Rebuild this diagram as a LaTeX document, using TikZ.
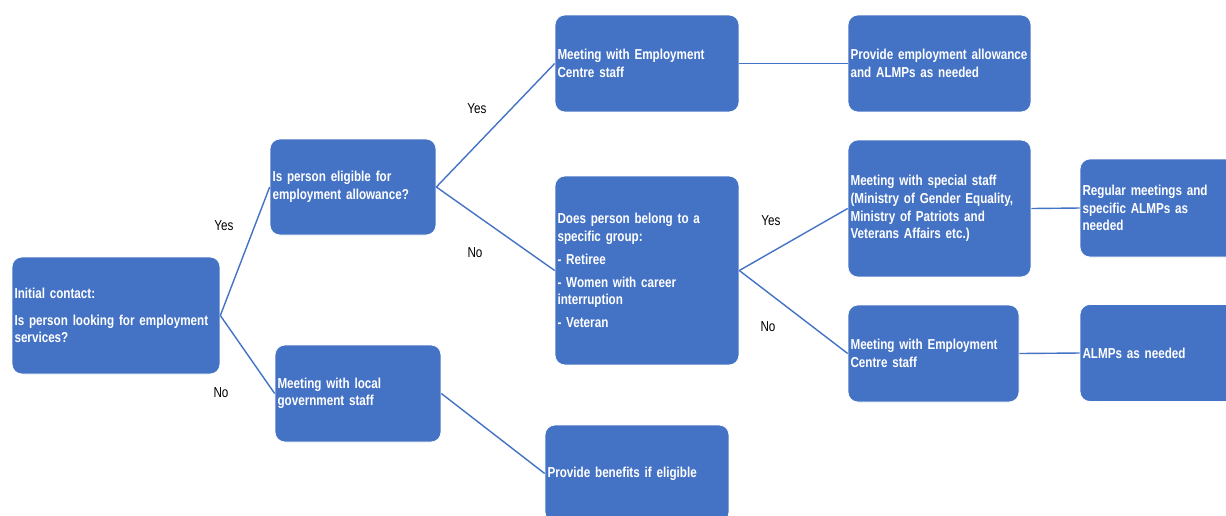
\documentclass[tikz,border=0pt]{standalone}
\usepackage{fontspec}
\setmainfont{Liberation Sans}[FakeStretch=0.81]
\usetikzlibrary{positioning}
\definecolor{boxblue}{HTML}{4472C4}
\tikzstyle{stage} = [rectangle, rounded corners=0.2cm, draw=white, fill=boxblue, text=white, align=left, inner xsep=0.05cm, inner ysep=0pt, minimum height=1.94cm, font=\bfseries\fontsize{8.2}{10}\selectfont]
\tikzstyle{link} = [draw=boxblue, line width=0.8pt]
\tikzstyle{ans} = [font=\fontsize{8.2}{10}\selectfont, inner sep=0pt]

\begin{document}
\begin{tikzpicture}[x=0.02cm, y=-0.02cm]
  \useasboundingbox (0,0) rectangle (1226,515);
  \clip (0,0) rectangle (1226,515);

  % first questions
  \node[stage, text width=4.06cm, minimum height=2.34cm] (init) at (116,315.5) {Initial contact:\\[5pt]Is person looking for employment\\services?};
  \node[stage, text width=3.22cm, minimum height=1.92cm] (elig) at (353,187) {Is person eligible for\\employment allowance?};
  \node[stage, text width=3.22cm] (local) at (358,393.5) {Meeting with local\\government staff};

  % middle column
  \node[stage, text width=3.58cm] (meet1) at (647,63.5) {Meeting with Employment\\Centre staff};
  \node[stage, text width=3.58cm, minimum height=3.78cm] (group) at (647,270.5) {Does person belong to a\\specific group:\\[3pt]- Retiree\\[3pt]- Women with career\\interruption\\[3pt]- Veteran};
  \node[stage, text width=3.58cm] (benefit) at (637,473.5) {Provide benefits if eligible};

  % right columns
  \node[stage, text width=3.56cm] (provide) at (939.5,63.5) {Provide employment allowance\\and ALMPs as needed};
  \node[stage, text width=3.56cm, minimum height=2.74cm] (special) at (939.5,208.5) {Meeting with special staff\\(Ministry of Gender Equality,\\Ministry of Patriots and\\Veterans Affairs etc.)};
  \node[stage, text width=3.32cm] (meet2) at (933.5,353.5) {Meeting with Employment\\Centre staff};
  \node[stage, text width=3.56cm, minimum height=1.96cm] (regular) at (1171.5,208) {Regular meetings and\\specific ALMPs as\\needed};
  \node[stage, text width=3.56cm] (almps) at (1171.5,353) {ALMPs as needed};

  % connectors
  \draw[link] (init.east) -- (elig.west);
  \draw[link] (init.east) -- (local.west);
  \draw[link] (elig.east) -- (meet1.west);
  \draw[link] (elig.east) -- (group.west);
  \draw[link] (local.east) -- (benefit.west);
  \draw[link] (meet1.east) -- (provide.west);
  \draw[link] (group.east) -- (special.west);
  \draw[link] (group.east) -- (meet2.west);
  \draw[link] (special.east) -- (regular.west);
  \draw[link] (meet2.east) -- (almps.west);

  % answers
  \node[ans] (yes1) at (224,226) {Yes};
  \node[ans] (no1) at (221,393) {No};
  \node[ans] (yes2) at (477,109) {Yes};
  \node[ans] (no2) at (475,253) {No};
  \node[ans] (yes3) at (771,221) {Yes};
  \node[ans] (no3) at (768,327) {No};
\end{tikzpicture}
\end{document}
